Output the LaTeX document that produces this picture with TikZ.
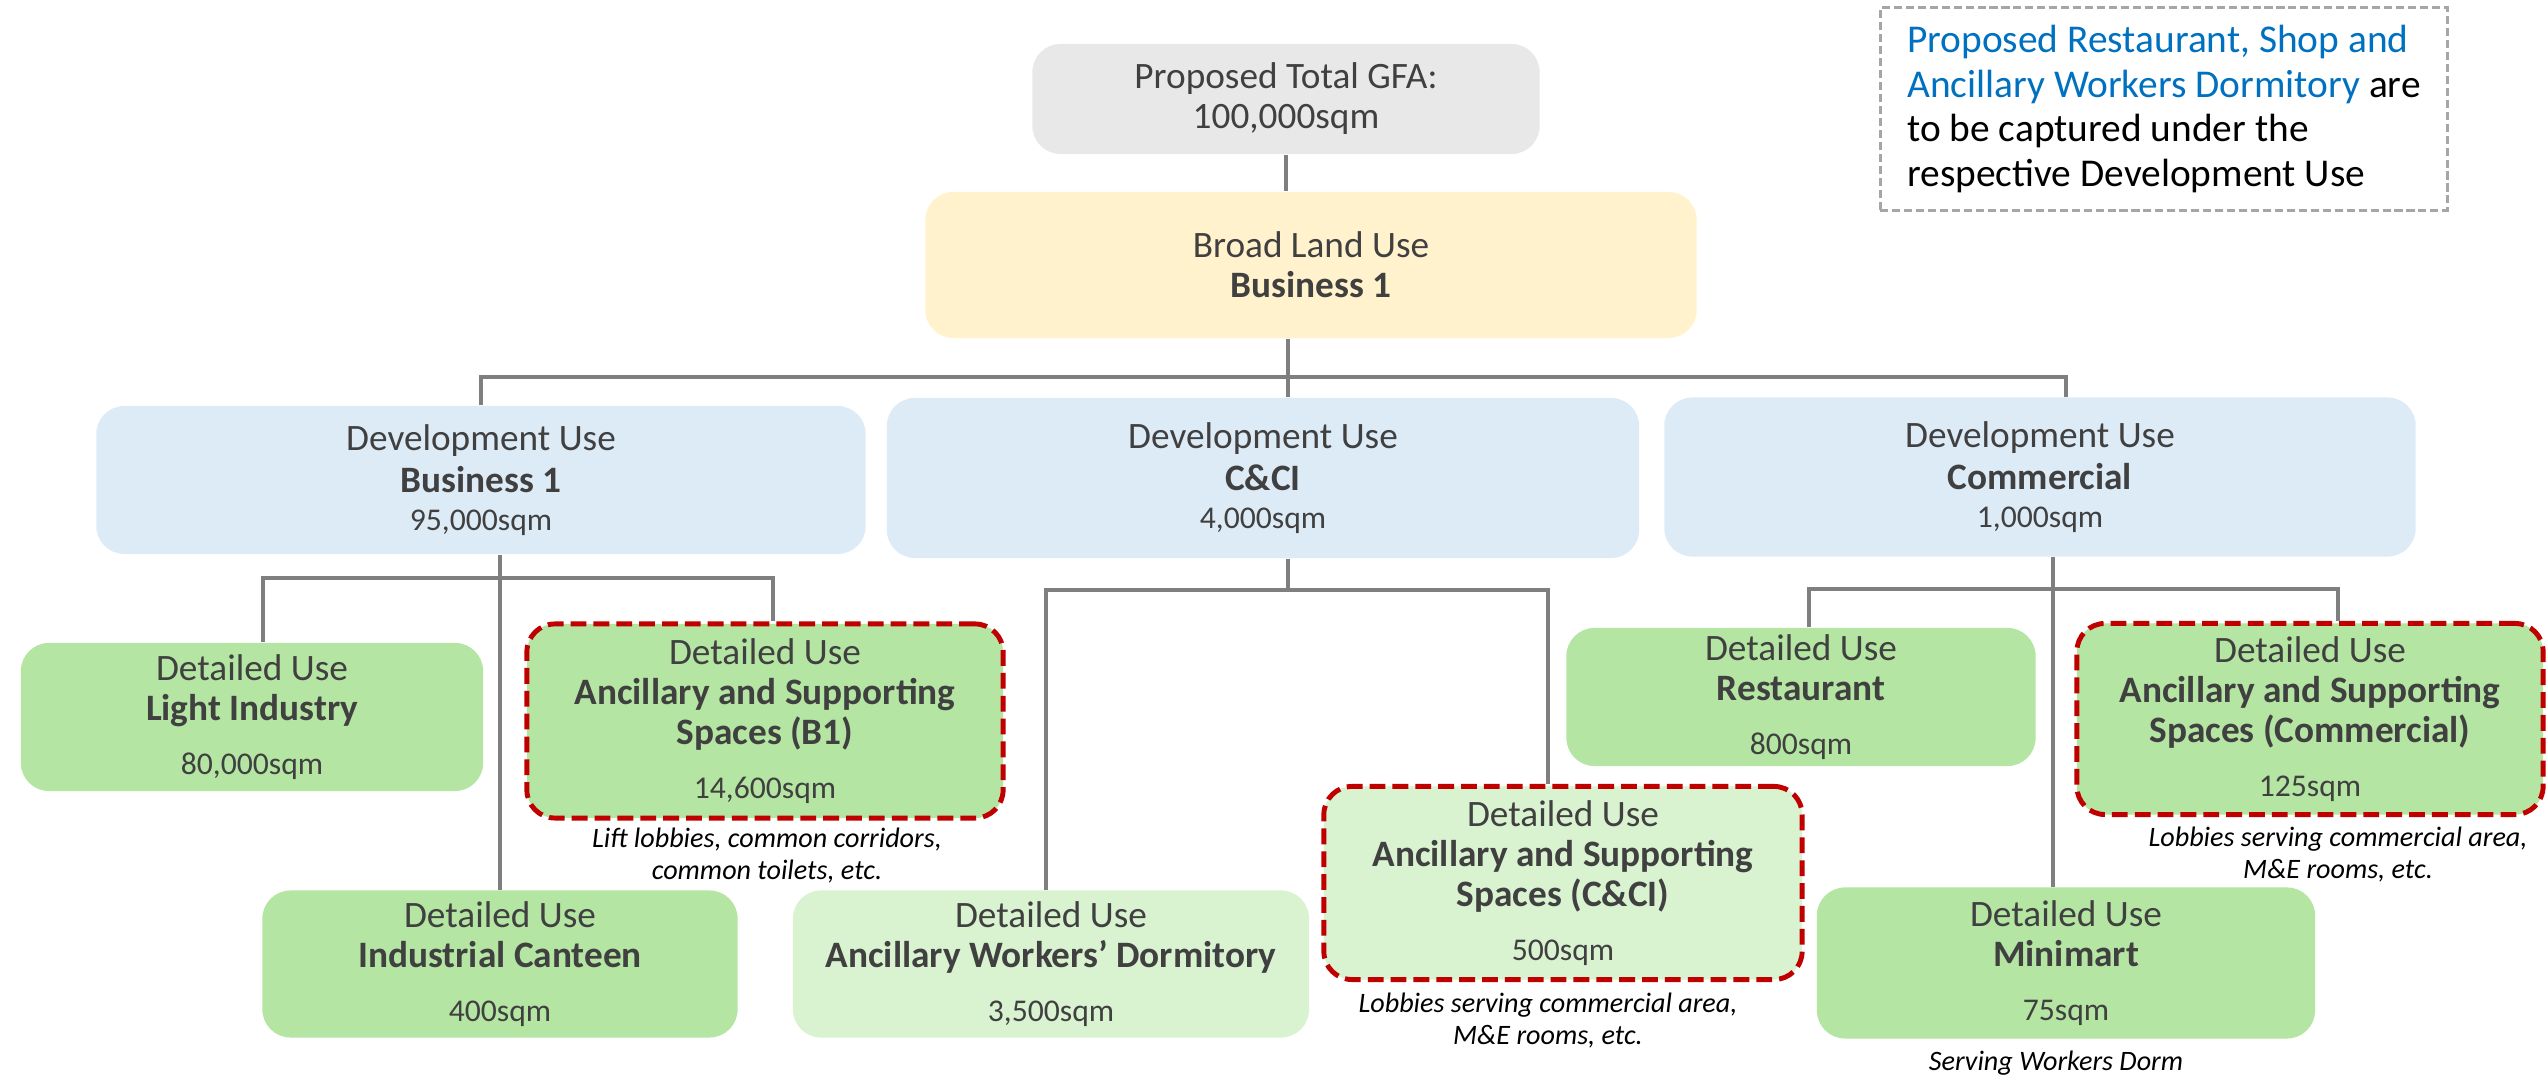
\documentclass[tikz,border=0pt]{standalone}
\usepackage{fontspec}
\setmainfont{Carlito}
\usepackage{xcolor}

\definecolor{gfagrey}{HTML}{E8E8E8}
\definecolor{landyellow}{HTML}{FFF2CC}
\definecolor{devblue}{HTML}{DDEBF7}
\definecolor{detgreen}{HTML}{B4E5A2}
\definecolor{detpale}{HTML}{D9F2D0}
\definecolor{ancred}{HTML}{C00000}
\definecolor{linkgrey}{HTML}{7F7F7F}
\definecolor{txtgrey}{HTML}{404040}
\definecolor{noteblue}{HTML}{0070C0}
\definecolor{notegrey}{HTML}{A6A6A6}

\newcommand{\area}[1]{{\fontsize{9}{11}\selectfont #1}}

\tikzset{
	box/.style={rounded corners=8pt, align=center, inner sep=0pt, text=txtgrey, font=\fontsize{10.6}{11.4}\selectfont},
	gfa/.style={box, fill=gfagrey},
	land/.style={box, fill=landyellow},
	dev/.style={box, fill=devblue, font=\fontsize{10.6}{11.8}\selectfont},
	det/.style={box, fill=detgreen},
	detpale/.style={box, fill=detpale},
	anc/.style={draw=ancred, line width=1.4pt, dash pattern=on 4.5pt off 2pt},
	link/.style={draw=linkgrey, line width=1.1pt},
	remark/.style={align=center, inner sep=0pt, font=\itshape\fontsize{8}{9.1}\selectfont},
	note/.style={draw=notegrey, line width=0.85pt, dash pattern=on 2.3pt off 1.1pt, align=left, inner sep=0pt, font=\fontsize{11.2}{12.7}\selectfont}
}

\begin{document}
\begin{tikzpicture}[x=0.01cm,y=-0.01cm]
	\useasboundingbox (0,0) rectangle (2547,1080);

	\node[gfa, minimum width=5.07cm, minimum height=1.10cm] (1) at (1286,99) {Proposed Total GFA:\\100,000sqm};
	\node[land, minimum width=7.71cm, minimum height=1.46cm] (2) at (1311,265) {Broad Land Use\\\textbf{Business 1}};
	\node[dev, minimum width=7.69cm, minimum height=1.48cm] (3) at (481,480) {Development Use\\\textbf{Business 1}\\[-1pt]\area{95,000sqm}};
	\node[dev, minimum width=7.52cm, minimum height=1.60cm] (4) at (1263,478) {Development Use\\\textbf{C\&CI}\\[-1pt]\area{4,000sqm}};
	\node[dev, minimum width=7.51cm, minimum height=1.59cm] (5) at (2040,477) {Development Use\\\textbf{Commercial}\\[-1pt]\area{1,000sqm}};
	\node[det, minimum width=4.62cm, minimum height=1.48cm] (6) at (252,717) {Detailed Use\\\textbf{Light Industry}\\[4pt]\area{80,000sqm}};
	\node[det, anc, minimum width=4.76cm, minimum height=1.94cm] (7) at (765,721) {Detailed Use\\\textbf{Ancillary and Supporting}\\\textbf{Spaces (B1)}\\[4pt]\area{14,600sqm}};
	\node[det, minimum width=4.75cm, minimum height=1.47cm] (8) at (500,964) {Detailed Use\\\textbf{Industrial Canteen}\\[4pt]\area{400sqm}};
	\node[detpale, minimum width=5.16cm, minimum height=1.47cm] (9) at (1051,964) {Detailed Use\\\textbf{Ancillary Workers’ Dormitory}\\[4pt]\area{3,500sqm}};
	\node[detpale, anc, minimum width=4.78cm, minimum height=1.93cm] (10) at (1563,883) {Detailed Use\\\textbf{Ancillary and Supporting}\\\textbf{Spaces (C\&CI)}\\[4pt]\area{500sqm}};
	\node[det, minimum width=4.69cm, minimum height=1.38cm] (11) at (1801,697) {Detailed Use\\\textbf{Restaurant}\\[4pt]\area{800sqm}};
	\node[det, anc, minimum width=4.66cm, minimum height=1.91cm] (12) at (2310,719) {Detailed Use\\\textbf{Ancillary and Supporting}\\\textbf{Spaces (Commercial)}\\[4pt]\area{125sqm}};
	\node[det, minimum width=4.98cm, minimum height=1.51cm] (13) at (2066,963) {Detailed Use\\\textbf{Minimart}\\[4pt]\area{75sqm}};

	\node[note, minimum width=5.67cm, minimum height=2.02cm] (14) at (2164,109) {\textcolor{noteblue}{Proposed Restaurant, Shop and}\\\textcolor{noteblue}{Ancillary Workers Dormitory} are\\to be captured under the\\respective Development Use};

	\node[remark] (15) at (767,856) {Lift lobbies, common corridors,\\common toilets, etc.};
	\node[remark] (16) at (1548,1021) {Lobbies serving commercial area,\\M\&E rooms, etc.};
	\node[remark] (17) at (2338,855) {Lobbies serving commercial area,\\M\&E rooms, etc.};
	\node[remark] (18) at (2056,1063) {Serving Workers Dorm};

	\coordinate (a) at (1288,377);
	\coordinate (k) at (2066,377);
	\coordinate (b) at (263,578);
	\coordinate (c) at (773,578);
	\coordinate (d) at (1046,590);
	\coordinate (e) at (1548,590);
	\coordinate (f) at (1809,589);
	\coordinate (g) at (2338,589);
	\coordinate (h) at (2053,589);

	\path [link] (1.south) edge (1.south |- 2.north);
	\path [link] (a |- 2.south) edge (a |- 4.north);
	\draw [link] (3.north) |- (a) -- (k) -- (k |- 5.north);
	\path [link] (8.north |- 3.south) edge (8.north);
	\draw [link] (b |- 6.north) -- (b) -- (c) -- (c |- 7.north);
	\path [link] (a |- 4.south) edge (a |- d);
	\draw [link] (d |- 9.north) -- (d) -- (e) -- (e |- 10.north);
	\path [link] (h |- 5.south) edge (h |- 13.north);
	\draw [link] (f |- 11.north) -- (f) -- (g) -- (g |- 12.north);
\end{tikzpicture}
\end{document}
